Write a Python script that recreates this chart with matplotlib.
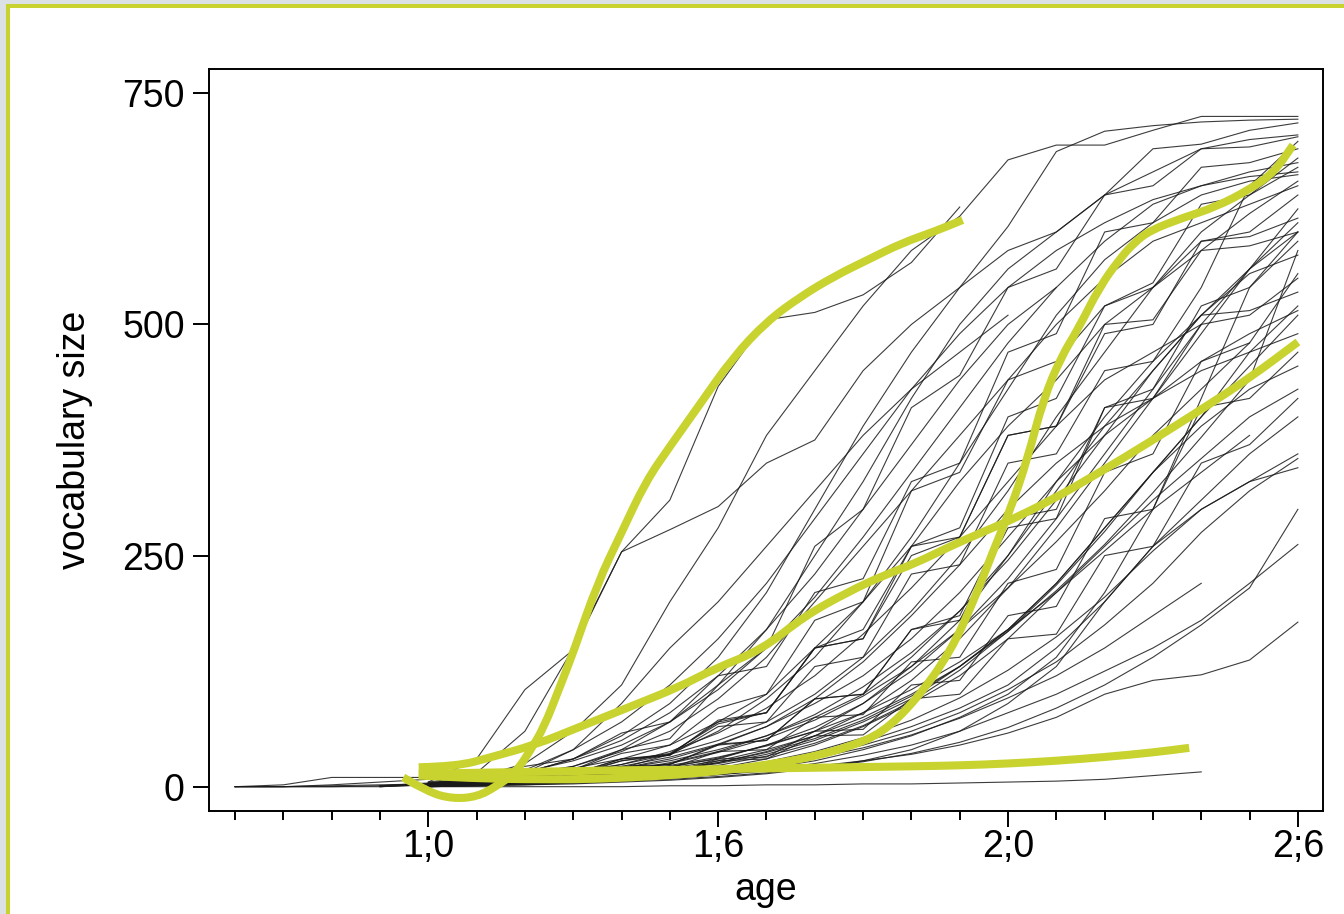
import matplotlib
matplotlib.use("Agg")
import matplotlib.pyplot as plt
from matplotlib.patches import Rectangle, PathPatch
from matplotlib.path import Path
import numpy as np

# age in months, vocab size per monthly visit
child_start = [12, 13, 12, 12, 12, 11, 11, 11, 11, 8, 8, 8, 8, 8,
               12, 12, 12, 12, 12, 12, 12, 12, 12, 12, 12, 12, 12, 12,
               12, 12, 12, 12, 12, 12, 12, 12, 13, 12, 12, 12, 12, 12,
               12, 12, 12, 14, 12, 12, 12, 12]
child_vocab = [
    [5, 30, 105, 148, 254, 310, 433, 505, 513, 532, 567, 627],
    [15, 60, 150, 254, 278, 303, 350, 375, 450, 500, 540, 580, 600, 640, 690, 695, 710, 718],
    [4, 10, 25, 60, 110, 200, 280, 380, 450, 520, 580, 617, 678, 694, 694, 710, 725, 725, 725],
    [3, 8, 15, 30, 55, 90, 140, 210, 300, 390, 470, 540, 606, 687, 709, 715, 719, 721, 722],
    [2, 5, 12, 18, 40, 52, 110, 150, 260, 300, 410, 445, 540, 560, 640, 650, 690, 692, 703],
    [1, 4, 8, 14, 22, 40, 70, 110, 170, 250, 330, 420, 500, 560, 600, 640, 665, 690, 700, 705],
    [0, 3, 6, 12, 14, 30, 35, 70, 80, 150, 170, 260, 280, 400, 420, 520, 545, 630, 640, 680],
    [0, 2, 5, 9, 10, 22, 24, 45, 50, 95, 100, 170, 185, 290, 300, 410, 430, 520, 540, 590],
    [1, 3, 6, 10, 15, 22, 32, 46, 65, 90, 120, 160, 210, 270, 330, 380, 420, 460, 490, 515],
    [0, 0, 2, 5, 8, 10, 12, 15, 20, 28, 40, 55, 75, 100, 140, 190, 250, 320, 390, 450, 510, 560, 600],
    [0, 0, 0, 0, 2, 4, 6, 9, 13, 18, 25, 35, 50, 70, 95, 130, 170, 220, 280, 340, 400, 470, 520],
    [0, 2, 10, 10, 10, 12, 15, 20, 30, 45, 70, 100, 150, 200, 260, 330, 390, 440, 500, 540, 580, 620, 655],
    [0, 0, 1, 2, 3, 4, 5, 6, 8, 10, 13, 17, 22, 28, 35, 45, 58, 75, 100, 115, 121, 137, 178],
    [0, 0, 0, 1, 2, 3, 5, 7, 10, 14, 20, 30, 45, 65, 90, 120, 160, 210, 260, 310, 355, 400, 430],
    [2, 4, 6, 10, 15, 22, 30, 45, 60, 90, 130, 180, 250, 330, 400, 460, 540, 650, 698],
    [5, 12, 22, 30, 58, 70, 120, 130, 210, 225, 330, 350, 470, 490, 600, 610, 670, 675, 690],
    [3, 6, 10, 16, 24, 35, 50, 70, 100, 140, 190, 250, 320, 400, 470, 540, 600, 640, 670],
    [2, 5, 10, 14, 28, 36, 68, 80, 150, 160, 250, 270, 380, 390, 490, 500, 590, 600, 640],
    [1, 3, 5, 8, 12, 18, 26, 38, 55, 80, 115, 160, 215, 280, 350, 420, 490, 560, 625],
    [3, 7, 14, 18, 36, 45, 85, 100, 180, 200, 320, 340, 440, 460, 520, 540, 590, 595, 615],
    [2, 4, 7, 11, 17, 26, 38, 55, 78, 108, 145, 190, 245, 310, 380, 450, 510, 555, 575],
    [1, 3, 7, 9, 18, 20, 38, 40, 75, 78, 135, 140, 220, 235, 340, 360, 460, 480, 555],
    [2, 5, 8, 13, 20, 30, 45, 65, 95, 135, 185, 240, 300, 350, 390, 420, 450, 470, 490],
    [1, 2, 5, 6, 13, 15, 30, 32, 60, 62, 110, 115, 185, 195, 290, 300, 410, 420, 470],
    [2, 4, 6, 9, 14, 20, 28, 40, 55, 75, 100, 130, 170, 220, 280, 340, 390, 430, 455],
    [1, 3, 6, 7, 14, 15, 28, 30, 55, 56, 95, 100, 160, 165, 250, 260, 350, 370, 420],
    [0, 1, 3, 5, 8, 12, 17, 24, 33, 45, 60, 80, 105, 135, 175, 220, 275, 320, 355],
    [1, 2, 4, 6, 9, 13, 18, 25, 35, 48, 65, 85, 110, 150, 200, 260, 310, 360, 400],
    [0, 1, 2, 4, 6, 9, 13, 18, 25, 34, 45, 60, 80, 100, 125, 150, 180, 220, 262],
    [2, 6, 12, 22, 38, 60, 95, 140, 200, 260, 320, 380, 440, 500, 550, 590, 610, 630, 650],
    [3, 8, 18, 40, 70, 110, 160, 220, 290, 360, 430, 490, 540, 580, 610, 635, 650, 660, 665],
    [0, 0, 0, 0, 0, 1, 1, 2, 2, 3, 3, 4, 5, 6, 8, 12, 16],
    [2, 5, 9, 15, 24, 38, 58, 85, 120, 165, 215, 270, 330, 390, 440, 470, 500],
    [1, 3, 6, 10, 16, 25, 37, 52, 72, 98, 130, 170, 215, 265, 320, 380, 430, 480],
    [2, 4, 7, 11, 16, 23, 32, 44, 60, 80, 105, 135, 170, 210, 255, 300, 340, 380],
    [1, 2, 3, 5, 8, 12, 17, 23, 31, 42, 56, 74, 96, 120, 150, 185, 220],
    [5, 15, 40, 90, 150, 200, 260, 320, 380, 430, 470, 510],
    [3, 7, 15, 30, 50, 80, 120, 170, 230, 300, 370, 440, 500, 540],
    [2, 4, 9, 12, 28, 34, 72, 80, 150, 160, 260, 270, 380, 390, 500, 505, 580, 585, 600],
    [1, 3, 5, 9, 14, 21, 31, 45, 64, 90, 125, 170, 225, 290, 360, 430, 500, 560, 610],
    [3, 5, 9, 11, 20, 24, 46, 50, 95, 100, 170, 180, 280, 290, 410, 420, 500, 510, 550],
    [0, 2, 4, 7, 11, 16, 23, 33, 47, 66, 92, 126, 168, 218, 276, 340, 400, 455, 510],
    [2, 6, 11, 14, 30, 34, 65, 70, 130, 140, 230, 240, 350, 360, 450, 460, 510, 515, 535],
    [1, 2, 4, 6, 9, 13, 19, 27, 38, 53, 72, 96, 126, 162, 205, 255, 300, 330, 360],
    [4, 9, 16, 28, 45, 70, 105, 150, 205, 270, 340, 410, 480, 540, 590, 630, 650, 665, 675],
    [5, 10, 20, 35, 60, 95, 140, 200, 270, 350, 430, 510, 570, 610, 640, 655, 662],
    [1, 2, 3, 4, 6, 8, 11, 15, 20, 27, 36, 48, 64, 85, 110, 140, 175, 215, 300],
    [2, 3, 5, 8, 12, 18, 26, 37, 52, 72, 98, 130, 168, 212, 262, 318, 378, 440, 580],
    [1, 2, 3, 5, 7, 10, 14, 20, 28, 40, 55, 75, 100, 140, 210, 300, 420, 540, 600],
    [0, 1, 2, 3, 5, 7, 10, 14, 20, 28, 40, 60, 90, 130, 200, 260, 300, 330, 345],
]

# fitted group curves
fit_a_age = [11.48, 12.0, 12.5, 13.0, 13.4, 13.8, 14.1, 14.4, 14.7, 15.0, 15.5, 16.0,
             16.5, 17.0, 17.6, 18.3, 19.0, 19.7, 20.4, 21.1, 21.8, 22.5, 23.06]
fit_a_vocab = [10, -6, -13, -11, 0, 15, 38, 65, 105, 145, 220, 275,
               330, 368, 412, 464, 503, 530, 552, 570, 588, 601, 613]
fit_b_age = [11.8, 12.6, 13.3, 14.2, 15.15, 16.2, 17.2, 17.9, 18.9, 19.8, 20.7, 21.4,
             22.1, 22.8, 23.5, 24.0, 24.9, 25.9, 27.0, 28.0, 29.0, 30.0]
fit_b_vocab = [21, 22, 32, 45, 65, 87, 108, 127, 148, 185, 211, 228,
               242, 260, 276, 287, 310, 340, 375, 408, 442, 481]
fit_c_age = [11.8, 13.0, 14.0, 15.2, 16.2, 17.2, 18.2, 19.3, 20.0, 20.7, 21.4, 22.1,
             22.8, 23.3, 23.7, 24.05, 24.4, 24.73, 25.1, 25.44, 25.9, 26.3, 26.6,
             26.95, 27.6, 28.3, 29.0, 29.5, 29.9]
fit_c_vocab = [12, 9, 8, 8, 10, 13, 18, 26, 33, 43, 58, 94,
               145, 202, 256, 300, 354, 419, 465, 494, 541, 570, 588,
               602, 615, 627, 646, 664, 694]
fit_d_age = [11.8, 13.0, 14.0, 15.2, 16.2, 17.2, 18.0, 19.3, 20.7, 22.0, 23.0, 24.0,
             25.0, 26.0, 27.0, 27.75]
fit_d_vocab = [14, 15, 16, 17, 18, 18, 19, 20, 21, 22, 23, 25, 28, 32, 37, 42]

tick_ages = [12, 18, 24, 30]
tick_labels = ["1;0", "1;6", "2;0", "2;6"]
vocab_ticks = [0, 250, 500, 750]

GREEN = "#c8d32f"


def smooth_path(xs, ys):
    # quadratic bezier pieces through the midpoints
    pts = list(zip(xs, ys))
    verts = [pts[0]]
    codes = [Path.MOVETO]
    for i in range(1, len(pts) - 1):
        mid = ((pts[i][0] + pts[i + 1][0]) / 2, (pts[i][1] + pts[i + 1][1]) / 2)
        verts += [pts[i], mid]
        codes += [Path.CURVE3, Path.CURVE3]
    verts.append(pts[-1])
    codes.append(Path.LINETO)
    return Path(verts, codes)


plt.rcParams['font.family'] = ['Liberation Sans', 'DejaVu Sans']

fig = plt.figure(figsize=(13.44, 9.14), dpi=100, facecolor="#dce1e5")
fig.add_artist(Rectangle((8 / 1344, -0.05), 1.1, (914 - 6) / 914 + 0.05,
                         transform=fig.transFigure, facecolor="white",
                         edgecolor=GREEN, linewidth=2.9, zorder=0))

ax = fig.add_axes([209 / 1344, 103 / 914, 1114 / 1344, 742 / 914])
ax.set_facecolor("white")

for start, vals in zip(child_start, child_vocab):
    ages = np.arange(start, start + len(vals))
    ax.plot(ages, vals, color="#1a1a1a", lw=0.8, alpha=0.85, zorder=2)

for a, v in [(fit_a_age, fit_a_vocab), (fit_b_age, fit_b_vocab),
             (fit_c_age, fit_c_vocab), (fit_d_age, fit_d_vocab)]:
    patch = PathPatch(smooth_path(a, v), facecolor="none", edgecolor=GREEN,
                      lw=5.8, capstyle="butt", joinstyle="round", zorder=3)
    ax.add_patch(patch)

ax.set_xlim(7.46, 30.52)
ax.set_ylim(-26.3, 776.3)
ax.set_xticks(tick_ages)
ax.set_xticklabels(tick_labels)
ax.set_xticks(range(8, 30), minor=True)
ax.set_yticks(vocab_ticks)
ax.tick_params(axis="both", which="major", direction="out", length=11.5,
               width=1.4, labelsize=27)
ax.tick_params(axis="x", which="major", pad=1.5)
ax.tick_params(axis="y", which="major", pad=6)
ax.tick_params(axis="x", which="minor", direction="out", length=6.5, width=1.4)
for s in ax.spines.values():
    s.set_linewidth(1.4)

ax.set_xlabel("age", fontsize=27, labelpad=5)
ax.set_ylabel("vocabulary size", fontsize=27, labelpad=21)

fig.savefig("out.png", dpi=100, facecolor=fig.get_facecolor())
